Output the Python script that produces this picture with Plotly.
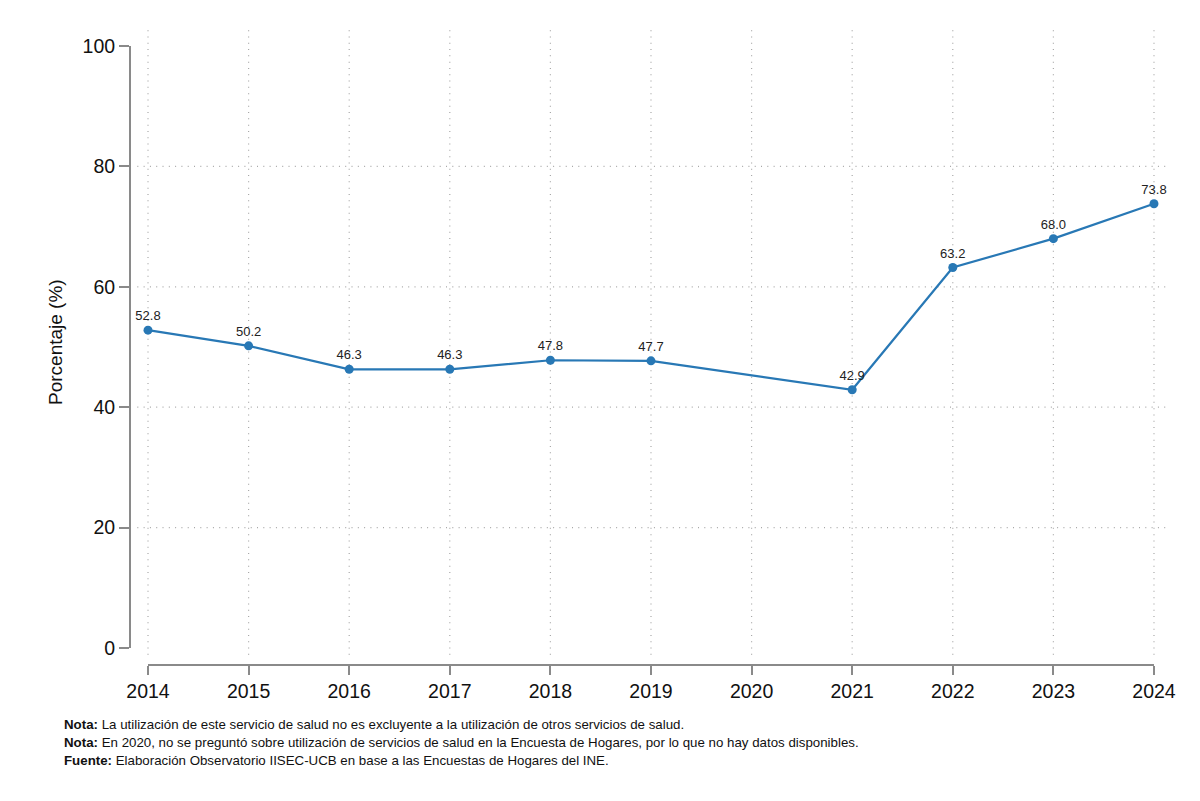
import plotly.graph_objects as go

years = [2014, 2015, 2016, 2017, 2018, 2019, 2021, 2022, 2023, 2024]
values = [52.8, 50.2, 46.3, 46.3, 47.8, 47.7, 42.9, 63.2, 68.0, 73.8]
x_ticks = list(range(2014, 2025))
y_ticks = [0, 20, 40, 60, 80, 100]
y_grid = [20, 40, 60, 80]
labels = [f"{v:.1f}" for v in values]

FONT = "Liberation Sans Narrow, Arial Narrow, Liberation Sans, Arial, sans-serif"
LINE = "#2878b5"
AXC = "#8a8a8a"
GRID = "#a8a8a8"
DOT = "1px,5.3px"

fig = go.Figure()
fig.add_trace(go.Scatter(
    x=years, y=values, mode="lines+markers+text",
    line=dict(color=LINE, width=2.2),
    marker=dict(color=LINE, size=9),
    text=labels, textposition="top center",
    textfont=dict(family=FONT, size=13, color="#222222"),
    cliponaxis=False, showlegend=False, hoverinfo="x+y",
))

shapes = []
for g in y_grid:
    shapes.append(dict(type="line", xref="paper", yref="y", x0=0.007, x1=0.995, y0=g, y1=g,
                       line=dict(color=GRID, width=1.2, dash=DOT), layer="below"))
for t in x_ticks:
    shapes.append(dict(type="line", xref="x", yref="paper", x0=t, x1=t, y0=0.016, y1=1.0,
                       line=dict(color=GRID, width=1.2, dash=DOT), layer="below"))
shapes.append(dict(type="line", xref="paper", yref="y", x0=0, x1=0, y0=0, y1=100,
                   line=dict(color=AXC, width=2)))
shapes.append(dict(type="line", xref="x", yref="paper", x0=2014, x1=2024, y0=0, y1=0,
                   line=dict(color=AXC, width=2)))

PH = 635.0
PW = 1045.0
def py(p):
    return (665 - p) / PH
def px(p):
    return (p - 130) / PW

notes = [
    ("<b>Nota:</b> La utilización de este servicio de salud no es excluyente a la utilización de otros servicios de salud.", 724),
    ("<b>Nota:</b> En 2020, no se preguntó sobre utilización de servicios de salud en la Encuesta de Hogares, por lo que no hay datos disponibles.", 742),
    ("<b>Fuente:</b> Elaboración Observatorio IISEC-UCB en base a las Encuestas de Hogares del INE.", 760),
]
annotations = []
for txt, yp in notes:
    annotations.append(dict(text=txt, xref="paper", yref="paper", x=px(62), y=py(yp),
                            xanchor="left", yanchor="middle", showarrow=False,
                            font=dict(family=FONT, size=13.3, color="#111111")))
annotations.append(dict(text="Porcentaje (%)", xref="paper", yref="paper", x=px(55), y=py(342),
                        xanchor="center", yanchor="middle", textangle=-90, showarrow=False,
                        font=dict(family=FONT, size=19, color="#111111")))

fig.update_layout(
    width=1200, height=801,
    margin=dict(l=130, r=25, t=30, b=136),
    paper_bgcolor="white", plot_bgcolor="white",
    shapes=shapes, annotations=annotations,
    xaxis=dict(range=[2013.821, 2024.209], tickvals=x_ticks, ticktext=[str(t) for t in x_ticks],
               showgrid=False, zeroline=False, showline=False,
               ticks="outside", ticklen=9, tickwidth=2, tickcolor=AXC,
               tickfont=dict(family=FONT, size=19.5, color="#111111")),
    yaxis=dict(range=[-2.82, 102.66], tickvals=y_ticks, ticktext=[str(t) for t in y_ticks],
               showgrid=False, zeroline=False, showline=False,
               ticks="outside", ticklen=10, tickwidth=2, tickcolor=AXC,
               tickfont=dict(family=FONT, size=19.5, color="#111111")),
)

fig.write_html("out.html")
